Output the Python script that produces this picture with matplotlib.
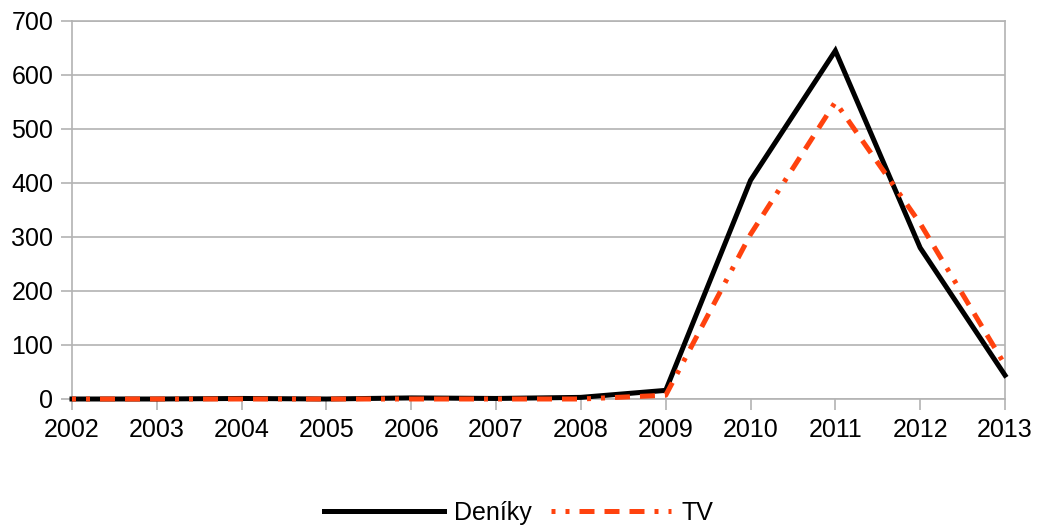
import matplotlib
matplotlib.use("Agg")
import matplotlib.pyplot as plt

years = [2002, 2003, 2004, 2005, 2006, 2007, 2008, 2009, 2010, 2011, 2012, 2013]
deniky = [0, 0, 1, 0, 2, 1, 3, 16, 405, 645, 280, 44]
tv = [0, 0, 0, 0, 0, 0, 0, 7, 305, 550, 325, 63]
series_names = ["Deníky", "TV"]
yticks = [0, 100, 200, 300, 400, 500, 600, 700]

plt.rcParams['font.family'] = ['Liberation Sans', 'DejaVu Sans']

fig = plt.figure(figsize=(10.37, 5.26), dpi=100)
ax = fig.add_axes([72/1037, (526-399)/526, (1005-72)/1037, (399-21)/526])

grid_c = '#b3b3b3'
ax.set_xlim(years[0], years[-1])
ax.set_ylim(yticks[0], yticks[-1])
ax.set_yticks(yticks)
ax.set_xticks(years)
ax.set_xticklabels([str(y) for y in years])
ax.yaxis.grid(True, color=grid_c, linewidth=1.2)
ax.set_axisbelow(True)
for s in ax.spines.values():
    s.set_color(grid_c)
    s.set_linewidth(1.2)
ax.tick_params(axis='both', colors=grid_c, length=8, width=1.2, labelsize=18, labelcolor='black')
ax.tick_params(axis='x', pad=5.5)
ax.tick_params(axis='y', pad=5.5)

l1, = ax.plot(years, deniky, color='black', linewidth=3.6, label=series_names[0],
              solid_joinstyle='miter', clip_on=False, zorder=3)
l2, = ax.plot(years, tv, color='#ff420e', linewidth=3.6, label=series_names[1],
              dashes=(0.8, 2.0, 0.8, 2.0, 3.0, 2.0, 3.0, 2.0, 3.0, 2.0),
              dash_capstyle='butt', clip_on=False, zorder=4)

fig.legend(handles=[l1, l2], loc='center', bbox_to_anchor=(0.5, (526-513)/526),
           ncol=2, frameon=False, fontsize=18, handlelength=4.8, handletextpad=0.4,
           columnspacing=0.8, borderpad=0.2)

fig.savefig('out.png', dpi=100)
